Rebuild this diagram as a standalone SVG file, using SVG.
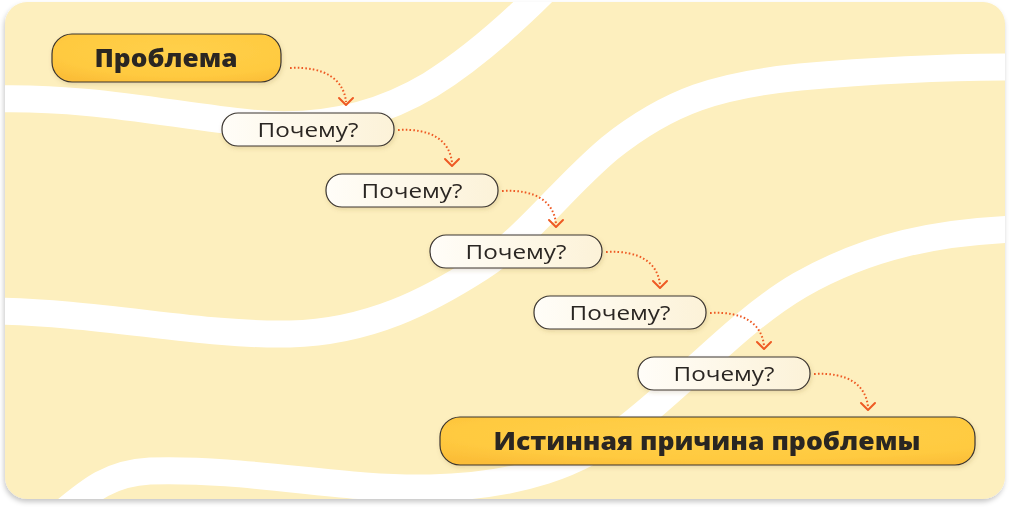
<svg xmlns="http://www.w3.org/2000/svg" width="1010" height="510" viewBox="0 0 1010 510">
  <defs>
    <style>
      .band { fill: none; stroke: #ffffff; stroke-width: 27; stroke-linecap: butt; }
      .gold { fill: url(#goldGrad); stroke: #3a3530; stroke-width: 1.2; }
      .why { fill: url(#creamGrad); stroke: #3a3530; stroke-width: 1.2; }
      .bold { font-family: "Open Sans", "Liberation Sans", sans-serif; font-weight: 800; font-size: 24px; fill: #2b2623; }
      .reg { font-family: "Open Sans", "Liberation Sans", sans-serif; font-weight: 400; font-size: 20.5px; fill: #2b2623; }
      .conn { fill: none; stroke: #ee5a24; stroke-width: 2; stroke-dasharray: 1.6 2.2; }
      .head { fill: none; stroke: #ee5a24; stroke-width: 2; stroke-linecap: round; stroke-linejoin: round; }
    </style>
    <radialGradient id="goldGrad" cx="0.55" cy="0.35" r="0.75">
      <stop offset="0" stop-color="#ffd04a"/>
      <stop offset="0.7" stop-color="#ffca40"/>
      <stop offset="1" stop-color="#fbbd37"/>
    </radialGradient>
    <linearGradient id="creamGrad" x1="0" y1="0" x2="1" y2="0">
      <stop offset="0" stop-color="#fffdf8"/>
      <stop offset="1" stop-color="#fcf2d8"/>
    </linearGradient>
    <filter id="cardShadow" x="-5%" y="-5%" width="110%" height="115%">
      <feDropShadow dx="-1" dy="3" stdDeviation="2.5" flood-color="#000000" flood-opacity="0.22"/>
    </filter>
    <filter id="nodeShadow" x="-10%" y="-30%" width="120%" height="170%">
      <feDropShadow dx="1" dy="2" stdDeviation="2" flood-color="#7a6020" flood-opacity="0.18"/>
    </filter>
    <clipPath id="cardClip">
      <rect x="5" y="2" width="1000" height="497" rx="22"/>
    </clipPath>
  </defs>

  <rect x="0" y="0" width="1010" height="510" fill="#ffffff"/>

  <g id="background">
    <rect x="5" y="2" width="1000" height="497" rx="22" fill="#fdefbe" filter="url(#cardShadow)"/>
    <g clip-path="url(#cardClip)">
      <path class="band" d="M -10,99 C 90,96 170,115 250,123 C 320,130 380,115 430,85 C 470,60 505,30 545,-10"/>
      <path class="band" d="M -10,311 C 100,312 200,336 290,334 C 370,332 430,300 480,268 C 530,235 560,190 610,148 C 670,100 720,85 800,77 C 880,70 950,67 1015,67"/>
      <path class="band" d="M 60,515 C 90,490 110,473 150,471 C 250,468 340,490 430,488 C 520,486 580,465 630,425 C 690,378 740,320 800,285 C 870,245 940,232 1015,229"/>
    </g>
  </g>

  <g id="connectors">
    <path class="conn" d="M 290,68 C 325,66 344,80 346,102"/>
    <path class="head" d="M 339,98 L 346,105 L 353,98"/>
    <path class="conn" d="M 398,130 C 432,128 450,141 452,163"/>
    <path class="head" d="M 445,159 L 452,166 L 459,159"/>
    <path class="conn" d="M 502,191 C 536,189 554,202 556,224"/>
    <path class="head" d="M 549,220 L 556,227 L 563,220"/>
    <path class="conn" d="M 606,252 C 640,250 658,263 660,285"/>
    <path class="head" d="M 653,281 L 660,288 L 667,281"/>
    <path class="conn" d="M 710,313 C 744,311 762,324 764,346"/>
    <path class="head" d="M 757,342 L 764,349 L 771,342"/>
    <path class="conn" d="M 814,374 C 848,372 866,385 868,407"/>
    <path class="head" d="M 861,403 L 868,410 L 875,403"/>
  </g>

  <g id="node-problem" filter="url(#nodeShadow)">
    <rect class="gold" x="52" y="34" width="229" height="48" rx="20"/>
    <text class="bold" x="166" y="67" text-anchor="middle" textLength="143" lengthAdjust="spacingAndGlyphs">Проблема</text>
  </g>

  <g id="node-why-1" filter="url(#nodeShadow)">
    <rect class="why" x="222" y="113" width="172" height="33" rx="16"/>
    <text class="reg" x="308" y="137" text-anchor="middle" textLength="101" lengthAdjust="spacingAndGlyphs">Почему?</text>
  </g>

  <g id="node-why-2" filter="url(#nodeShadow)">
    <rect class="why" x="326" y="174" width="172" height="33" rx="16"/>
    <text class="reg" x="412" y="198" text-anchor="middle" textLength="101" lengthAdjust="spacingAndGlyphs">Почему?</text>
  </g>

  <g id="node-why-3" filter="url(#nodeShadow)">
    <rect class="why" x="430" y="235" width="172" height="33" rx="16"/>
    <text class="reg" x="516" y="259" text-anchor="middle" textLength="101" lengthAdjust="spacingAndGlyphs">Почему?</text>
  </g>

  <g id="node-why-4" filter="url(#nodeShadow)">
    <rect class="why" x="534" y="296" width="172" height="33" rx="16"/>
    <text class="reg" x="620" y="320" text-anchor="middle" textLength="101" lengthAdjust="spacingAndGlyphs">Почему?</text>
  </g>

  <g id="node-why-5" filter="url(#nodeShadow)">
    <rect class="why" x="638" y="357" width="172" height="33" rx="16"/>
    <text class="reg" x="724" y="381" text-anchor="middle" textLength="101" lengthAdjust="spacingAndGlyphs">Почему?</text>
  </g>

  <g id="node-root-cause" filter="url(#nodeShadow)">
    <rect class="gold" x="440" y="417" width="535" height="48" rx="20"/>
    <text class="bold" x="707" y="450" text-anchor="middle" textLength="427" lengthAdjust="spacingAndGlyphs">Истинная причина проблемы</text>
  </g>
</svg>
